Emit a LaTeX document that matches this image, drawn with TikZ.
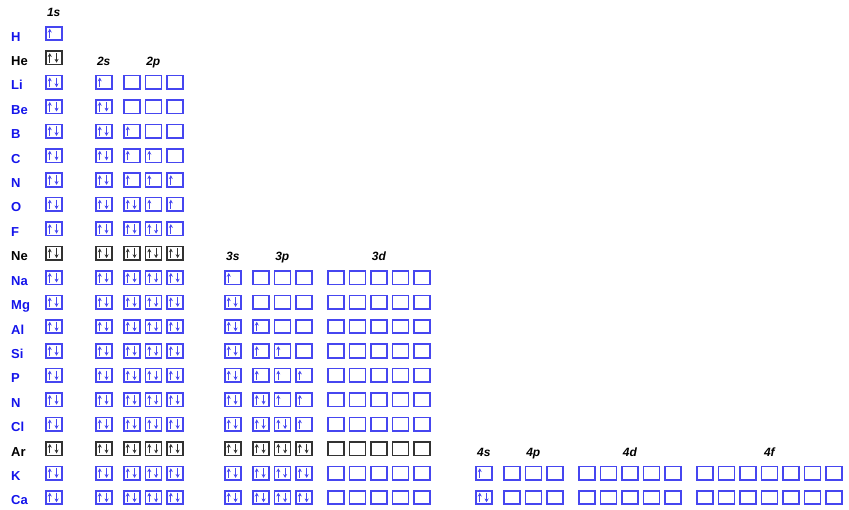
\documentclass[tikz,border=0pt]{standalone}
\usepackage{fontspec}
\setmainfont{Liberation Sans}
\usetikzlibrary{arrows.meta}
\definecolor{lblue}{RGB}{20,20,235}
\definecolor{bblue}{RGB}{70,70,240}
\definecolor{bgray}{RGB}{50,50,50}
\tikzset{
  orb/.style={draw, line width=1.6pt, minimum width=16pt, minimum height=13.5pt, inner sep=0pt, outer sep=0pt},
  elec/.style={line width=1.1pt, -{Stealth[length=3.8pt,width=4pt]}},
  elabel/.style={font=\bfseries\fontsize{13}{13}\selectfont, anchor=base west, inner sep=0pt},
  shell/.style={font=\bfseries\itshape\fontsize{12}{12}\selectfont, anchor=base, inner sep=0pt},
}
\newcommand\orbbox[5]{%
  \pgfmathsetmacro\yy{33.5+24.42*#3}%
  \node[orb,draw=#5] (#1) at ({#2+8.75},\yy) {};%
  \ifcase#4\relax
  \or \draw[elec,#5] ([shift={(-4pt,-4.8pt)}]#1.center) -- ([shift={(-4pt,4.8pt)}]#1.center);%
  \or \draw[elec,#5] ([shift={(-4pt,-4.8pt)}]#1.center) -- ([shift={(-4pt,4.8pt)}]#1.center);%
      \draw[elec,#5] ([shift={(2.8pt,4.8pt)}]#1.center) -- ([shift={(2.8pt,-4.8pt)}]#1.center);%
  \fi}
% #1 prefix, #2 x0, #3 row, #4 occupancy list, #5 colour
\newcommand\grp[5]{%
  \foreach \o [count=\k from 0] in {#4} {%
    \pgfmathsetmacro\xx{#2+21.55*\k}%
    \orbbox{#1-\k}{\xx}{#3}{\o}{#5}%
  }}
% #1 row, #2 label, #3 label colour
\newcommand\elem[3]{%
  \node[elabel, text=#3] (L#1) at (11,{41+24.42*#1}) {#2};}
\newcommand\kl[2]{% #1 row #2 colour : 1s 2s 2p full
  \grp{r#1s1}{45}{#1}{2}{#2}\grp{r#1s2}{95}{#1}{2}{#2}\grp{r#1p2}{123}{#1}{2,2,2}{#2}}
\newcommand\mfull[2]{% 3s 3p full
  \grp{r#1s3}{224}{#1}{2}{#2}\grp{r#1p3}{252}{#1}{2,2,2}{#2}\grp{r#1d3}{327}{#1}{0,0,0,0,0}{#2}}
\begin{document}
\begin{tikzpicture}[x=1pt,y=-1pt]
\useasboundingbox (0,0) rectangle (849,509);
% shell headers
\node[shell] (h1s) at (53.75,16.58) {1s};
\node[shell] (h2s) at (103.75,65.42) {2s};
\node[shell] (h2p) at (153.3,65.42) {2p};
\node[shell] (h3s) at (232.75,260.78) {3s};
\node[shell] (h3p) at (282.3,260.78) {3p};
\node[shell] (h3d) at (378.85,260.78) {3d};
\node[shell] (h4s) at (483.75,456.14) {4s};
\node[shell] (h4p) at (533.3,456.14) {4p};
\node[shell] (h4d) at (629.85,456.14) {4d};
\node[shell] (h4f) at (769.4,456.14) {4f};
% H, He
\elem{0}{H}{lblue}\grp{r0s1}{45}{0}{1}{bblue}
\elem{1}{He}{black}\grp{r1s1}{45}{1}{2}{bgray}
% period 2
\elem{2}{Li}{lblue}\grp{r2s1}{45}{2}{2}{bblue}\grp{r2s2}{95}{2}{1}{bblue}\grp{r2p2}{123}{2}{0,0,0}{bblue}
\elem{3}{Be}{lblue}\grp{r3s1}{45}{3}{2}{bblue}\grp{r3s2}{95}{3}{2}{bblue}\grp{r3p2}{123}{3}{0,0,0}{bblue}
\elem{4}{B}{lblue}\grp{r4s1}{45}{4}{2}{bblue}\grp{r4s2}{95}{4}{2}{bblue}\grp{r4p2}{123}{4}{1,0,0}{bblue}
\elem{5}{C}{lblue}\grp{r5s1}{45}{5}{2}{bblue}\grp{r5s2}{95}{5}{2}{bblue}\grp{r5p2}{123}{5}{1,1,0}{bblue}
\elem{6}{N}{lblue}\grp{r6s1}{45}{6}{2}{bblue}\grp{r6s2}{95}{6}{2}{bblue}\grp{r6p2}{123}{6}{1,1,1}{bblue}
\elem{7}{O}{lblue}\grp{r7s1}{45}{7}{2}{bblue}\grp{r7s2}{95}{7}{2}{bblue}\grp{r7p2}{123}{7}{2,1,1}{bblue}
\elem{8}{F}{lblue}\grp{r8s1}{45}{8}{2}{bblue}\grp{r8s2}{95}{8}{2}{bblue}\grp{r8p2}{123}{8}{2,2,1}{bblue}
\elem{9}{Ne}{black}\kl{9}{bgray}
% period 3
\elem{10}{Na}{lblue}\kl{10}{bblue}\grp{r10s3}{224}{10}{1}{bblue}\grp{r10p3}{252}{10}{0,0,0}{bblue}\grp{r10d3}{327}{10}{0,0,0,0,0}{bblue}
\elem{11}{Mg}{lblue}\kl{11}{bblue}\grp{r11s3}{224}{11}{2}{bblue}\grp{r11p3}{252}{11}{0,0,0}{bblue}\grp{r11d3}{327}{11}{0,0,0,0,0}{bblue}
\elem{12}{Al}{lblue}\kl{12}{bblue}\grp{r12s3}{224}{12}{2}{bblue}\grp{r12p3}{252}{12}{1,0,0}{bblue}\grp{r12d3}{327}{12}{0,0,0,0,0}{bblue}
\elem{13}{Si}{lblue}\kl{13}{bblue}\grp{r13s3}{224}{13}{2}{bblue}\grp{r13p3}{252}{13}{1,1,0}{bblue}\grp{r13d3}{327}{13}{0,0,0,0,0}{bblue}
\elem{14}{P}{lblue}\kl{14}{bblue}\grp{r14s3}{224}{14}{2}{bblue}\grp{r14p3}{252}{14}{1,1,1}{bblue}\grp{r14d3}{327}{14}{0,0,0,0,0}{bblue}
\elem{15}{N}{lblue}\kl{15}{bblue}\grp{r15s3}{224}{15}{2}{bblue}\grp{r15p3}{252}{15}{2,1,1}{bblue}\grp{r15d3}{327}{15}{0,0,0,0,0}{bblue}
\elem{16}{Cl}{lblue}\kl{16}{bblue}\grp{r16s3}{224}{16}{2}{bblue}\grp{r16p3}{252}{16}{2,2,1}{bblue}\grp{r16d3}{327}{16}{0,0,0,0,0}{bblue}
\elem{17}{Ar}{black}\kl{17}{bgray}\mfull{17}{bgray}
% period 4
\elem{18}{K}{lblue}\kl{18}{bblue}\mfull{18}{bblue}\grp{r18s4}{475}{18}{1}{bblue}\grp{r18p4}{503}{18}{0,0,0}{bblue}\grp{r18d4}{578}{18}{0,0,0,0,0}{bblue}\grp{r18f4}{696}{18}{0,0,0,0,0,0,0}{bblue}
\elem{19}{Ca}{lblue}\kl{19}{bblue}\mfull{19}{bblue}\grp{r19s4}{475}{19}{2}{bblue}\grp{r19p4}{503}{19}{0,0,0}{bblue}\grp{r19d4}{578}{19}{0,0,0,0,0}{bblue}\grp{r19f4}{696}{19}{0,0,0,0,0,0,0}{bblue}
\end{tikzpicture}
\end{document}
